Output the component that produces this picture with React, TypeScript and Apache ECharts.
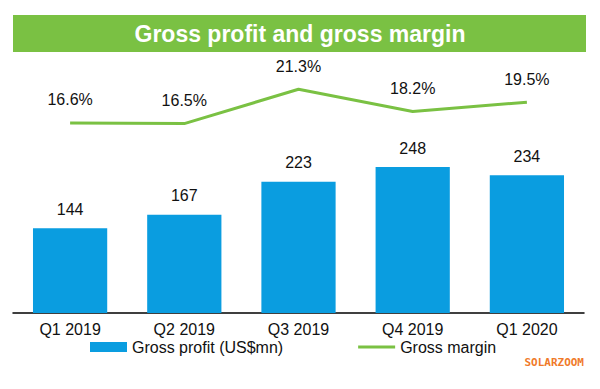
import React, { useEffect, useRef } from "react";
import * as echarts from "echarts";

const categories = ["Q1 2019", "Q2 2019", "Q3 2019", "Q4 2019", "Q1 2020"];
const grossProfit = [144, 167, 223, 248, 234];
const grossMargin = [16.6, 16.5, 21.3, 18.2, 19.5];
const titleText = "Gross profit and gross margin";
const barName = "Gross profit (US$mn)";
const lineName = "Gross margin";

const BAR = "#0A9DE0";
const GREEN = "#7AC143";
const FONT = "'Liberation Sans', Arial, sans-serif";

export default function App() {
  const ref = useRef<HTMLDivElement>(null);
  useEffect(() => {
    if (!ref.current) return;
    const chart = echarts.init(ref.current, undefined, { renderer: "svg" });
    chart.setOption({
      animation: false,
      backgroundColor: "#ffffff",
      textStyle: { fontFamily: FONT },
      grid: { left: 13, right: 16, top: 60, bottom: 76, containLabel: false },
      graphic: [
        {
          type: "rect",
          shape: { x: 13, y: 15, width: 573, height: 37 },
          style: { fill: GREEN },
          silent: true,
        },
        {
          type: "text",
          x: 300,
          y: 34,
          style: {
            text: titleText,
            fill: "#ffffff",
            font: `bold 23px ${FONT}`,
            textAlign: "center",
            textVerticalAlign: "middle",
          },
        },
        {
          type: "text",
          x: 584,
          y: 362,
          style: {
            text: "SOLARZOOM",
            fill: "#F07A2A",
            font: "bold 11px 'DejaVu Sans Mono', monospace",
            textAlign: "right",
            textVerticalAlign: "middle",
          },
        },
      ],
      legend: {
        left: 90,
        top: 339,
        padding: 0,
        itemWidth: 37,
        itemHeight: 10,
        itemGap: 75,
        textStyle: { fontSize: 16, color: "#111", fontFamily: FONT },
        data: [
          { name: barName, icon: "rect" },
          {
            name: lineName,
            icon: "path://M0,0L0,0M0,10L0,10M0,3.5H37V6.5H0Z",
            itemStyle: { color: GREEN, borderWidth: 0 },
          },
        ],
      },
      xAxis: {
        type: "category",
        data: categories,
        axisLine: { show: true, lineStyle: { color: "#000", width: 1.5 } },
        axisTick: { show: false },
        axisLabel: { fontSize: 16, color: "#111", margin: 8, fontFamily: FONT },
      },
      yAxis: [
        { type: "value", min: 0, max: 430, show: false, splitLine: { show: false } },
        { type: "value", min: -10, max: 25.4, show: false, splitLine: { show: false } },
      ],
      series: [
        {
          name: barName,
          type: "bar",
          data: grossProfit,
          barWidth: "65%",
          itemStyle: { color: BAR },
          label: {
            show: true,
            position: "top",
            distance: 11,
            fontSize: 16,
            color: "#111",
            fontFamily: FONT,
          },
        },
        {
          name: lineName,
          type: "line",
          yAxisIndex: 1,
          data: grossMargin,
          symbol: "none",
          lineStyle: { color: GREEN, width: 3 },
          itemStyle: { color: GREEN },
        },
        {
          name: "marginLabels",
          type: "scatter",
          yAxisIndex: 1,
          data: grossMargin,
          symbolSize: 0,
          itemStyle: { color: GREEN, opacity: 1 },
          silent: true,
          label: {
            show: true,
            position: "top",
            distance: 15,
            fontSize: 16,
            color: "#111",
            opacity: 1,
            fontFamily: FONT,
            formatter: (p: any) => `${Number(p.value).toFixed(1)}%`,
          },
        },
      ],
    });
    return () => chart.dispose();
  }, []);
  return <div ref={ref} style={{ width: 600, height: 389, position: "absolute", left: 0, top: 0 }} />;
}
